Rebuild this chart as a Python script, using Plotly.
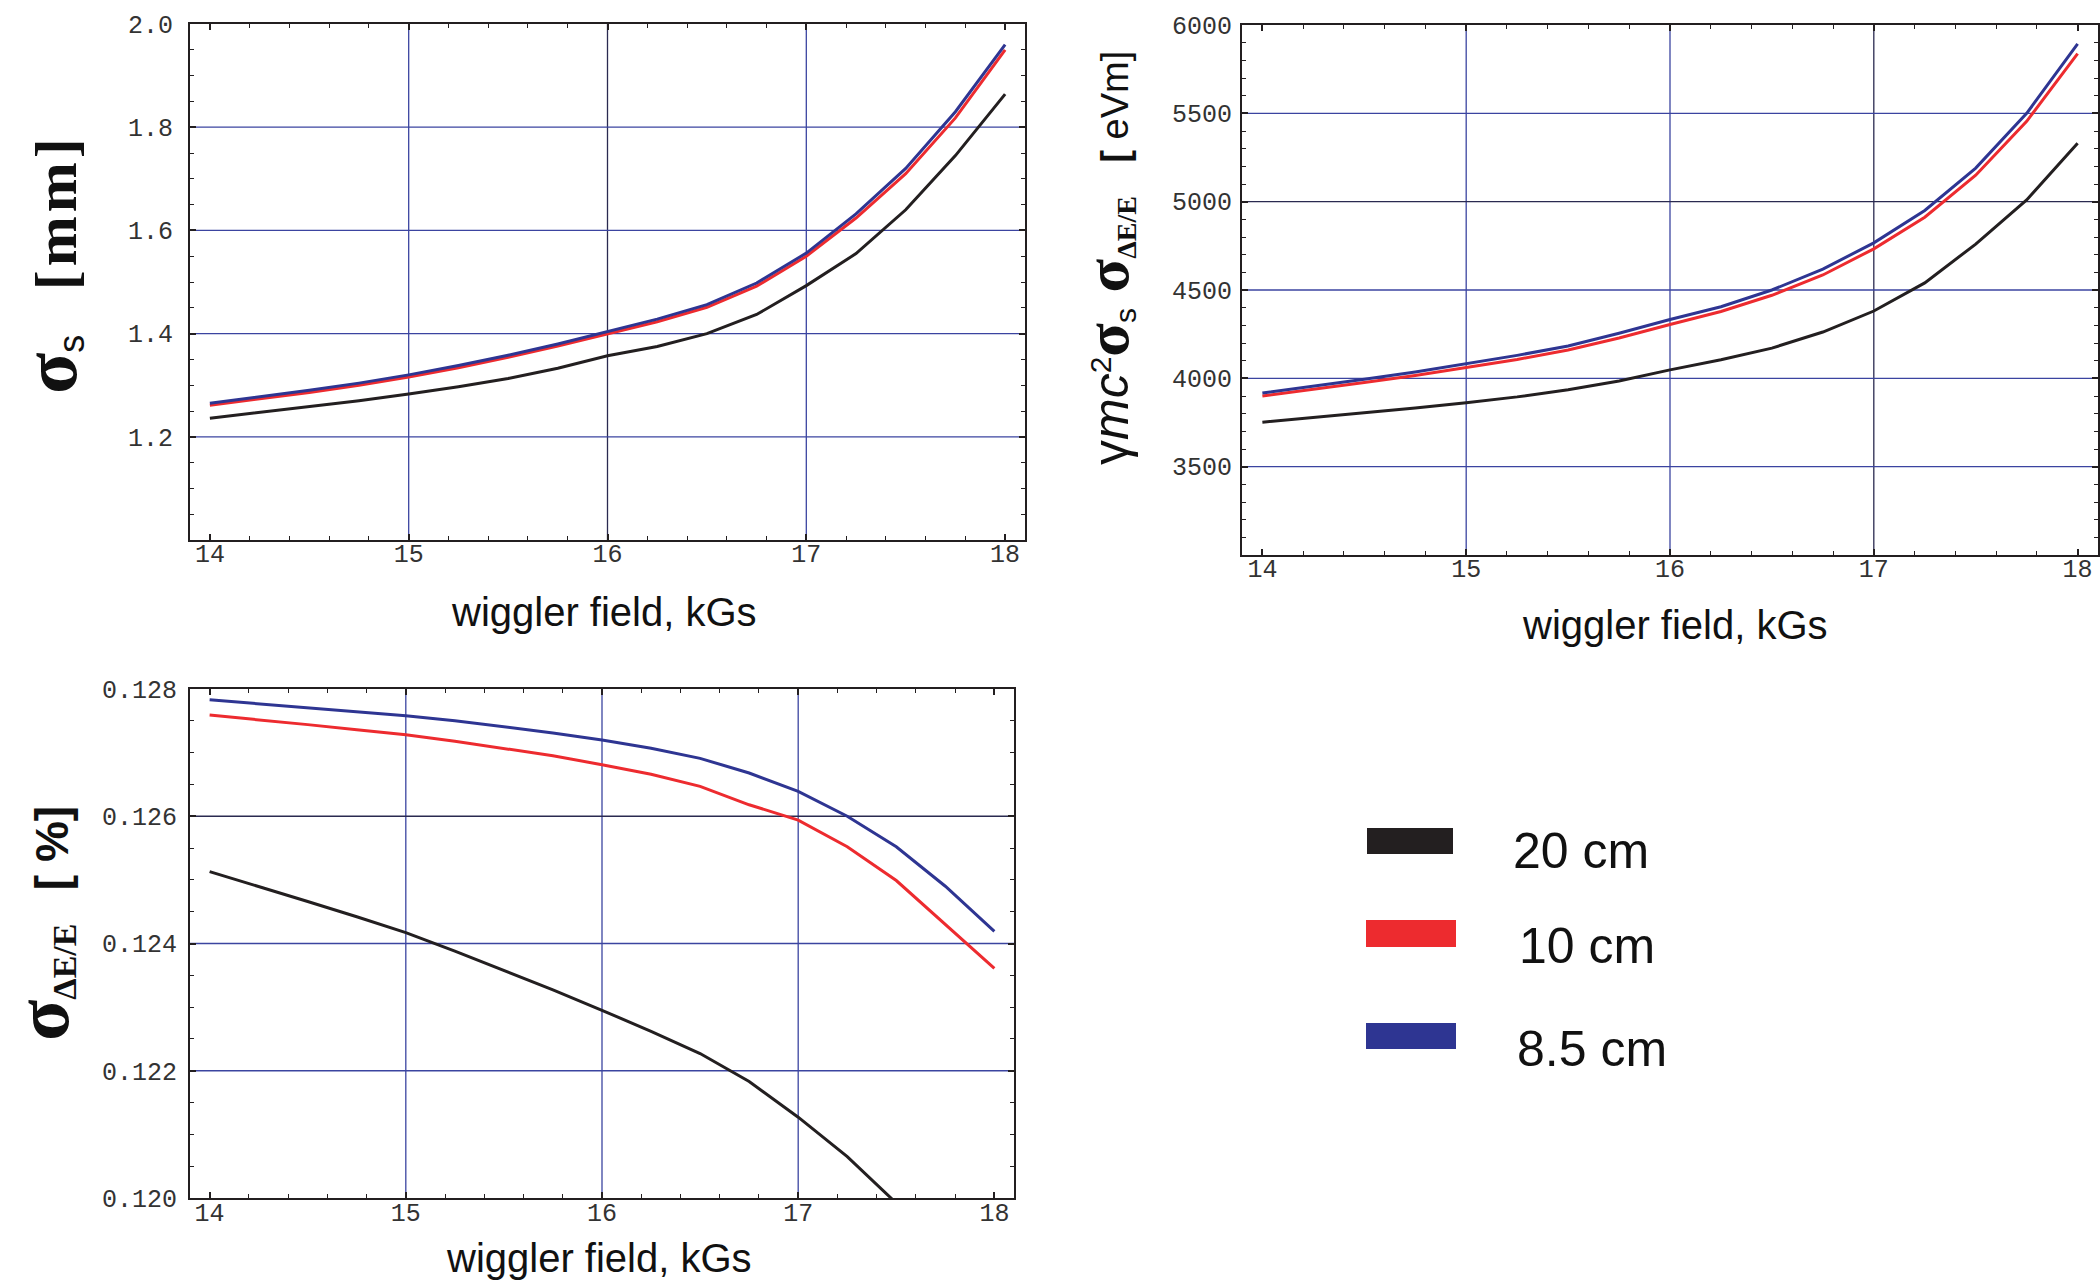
import plotly.graph_objects as go

W, H = 2100, 1282

# ---------------- data ----------------
field_kgs = [14.0, 14.25, 14.5, 14.75, 15.0, 15.25, 15.5, 15.75, 16.0,
             16.25, 16.5, 16.75, 17.0, 17.25, 17.5, 17.75, 18.0]

# bunch length sigma_s [mm]
sigma_s_20cm = [1.236, 1.247, 1.258, 1.270, 1.283, 1.297, 1.313, 1.333, 1.357,
                1.375, 1.400, 1.437, 1.493, 1.555, 1.640, 1.745, 1.864]
sigma_s_10cm = [1.261, 1.273, 1.286, 1.300, 1.316, 1.334, 1.354, 1.376, 1.400,
                1.423, 1.451, 1.492, 1.550, 1.624, 1.710, 1.818, 1.950]
sigma_s_85cm = [1.265, 1.277, 1.290, 1.304, 1.320, 1.338, 1.358, 1.380, 1.404,
                1.428, 1.456, 1.498, 1.556, 1.632, 1.720, 1.830, 1.960]

# longitudinal emittance gamma*m*c^2*sigma_s*sigma_dE/E [eVm]
emit_20cm = [3752, 3778, 3805, 3832, 3862, 3895, 3935, 3985, 4048,
             4105, 4171, 4262, 4381, 4540, 4760, 5010, 5331]
emit_10cm = [3900, 3937, 3976, 4016, 4060, 4107, 4160, 4228, 4305,
             4378, 4470, 4585, 4733, 4912, 5150, 5455, 5838]
emit_85cm = [3917, 3955, 3995, 4036, 4081, 4130, 4183, 4255, 4333,
             4405, 4500, 4618, 4767, 4950, 5190, 5500, 5893]

# relative energy spread sigma_dE/E [%]
spread_20cm = [0.12513, 0.12490, 0.12466, 0.12442, 0.12417, 0.12388, 0.12358,
               0.12327, 0.12295, 0.12262, 0.12227, 0.12183, 0.12127, 0.12065,
               0.11992]
spread_10cm = [0.12759, 0.12752, 0.12744, 0.12736, 0.12728, 0.12718, 0.12707,
               0.12695, 0.12681, 0.12666, 0.12647, 0.12618, 0.12594, 0.12552,
               0.12499, 0.12430, 0.12361]
spread_85cm = [0.12783, 0.12777, 0.12771, 0.12765, 0.12758, 0.12750, 0.12741,
               0.12731, 0.12720, 0.12707, 0.12691, 0.12668, 0.12639, 0.12600,
               0.12552, 0.12490, 0.12419]

period_labels = ["20 cm", "10 cm", "8.5 cm"]
x_ticks = [14, 15, 16, 17, 18]
y1_ticks = [1.2, 1.4, 1.6, 1.8, 2.0]
y2_ticks = [3500, 4000, 4500, 5000, 5500, 6000]
y3_ticks = [0.120, 0.122, 0.124, 0.126, 0.128]

# ---------------- styling ----------------
BLACK = "#231f20"
RED = "#ed2b2f"
BLUE = "#2e3592"
GRID = "#3b44a0"
GRID_DARK = "#2a2a50"
TICK_FONT = dict(family="Liberation Mono", size=25, color="#333333")
TITLE_FONT = dict(family="Liberation Sans", size=40, color="#111111")


def px(x):
    return x / W


def py(y):
    return 1 - y / H


fig = go.Figure()

series = [
    ("x", "y", [sigma_s_20cm, sigma_s_10cm, sigma_s_85cm]),
    ("x2", "y2", [emit_20cm, emit_10cm, emit_85cm]),
    ("x3", "y3", [spread_20cm, spread_10cm, spread_85cm]),
]
for xa, ya, ys in series:
    for vals, col in zip(ys, [BLACK, RED, BLUE]):
        fig.add_trace(go.Scatter(
            x=field_kgs[:len(vals)], y=vals, mode="lines",
            line=dict(color=col, width=3), xaxis=xa, yaxis=ya,
            showlegend=False, hoverinfo="skip"))


def xaxis(standoff):
    return dict(
        range=[13.9, 18.1], tickvals=x_ticks,
        ticktext=[str(v) for v in x_ticks],
        ticks="inside", ticklen=6, tickwidth=1.5, tickcolor=BLACK,
        minor=dict(ticks="inside", tick0=14, dtick=0.2, ticklen=4,
                   tickwidth=1.2, tickcolor=BLACK, showgrid=False),
        showline=True, linewidth=2, linecolor=BLACK, mirror="allticks",
        showgrid=False, zeroline=False, tickfont=TICK_FONT,
        ticklabelstandoff=standoff, automargin=False,
    )


def yaxis(rng, ticks, text, minor_dt, standoff):
    return dict(
        range=rng, tickvals=ticks, ticktext=text,
        ticks="inside", ticklen=6, tickwidth=1.5, tickcolor=BLACK,
        minor=dict(ticks="inside", tick0=rng[0], dtick=minor_dt, ticklen=4,
                   tickwidth=1.2, tickcolor=BLACK, showgrid=False),
        showline=True, linewidth=2, linecolor=BLACK, mirror="allticks",
        showgrid=False, zeroline=False, tickfont=TICK_FONT,
        ticklabelstandoff=standoff, automargin=False,
    )


fig.update_layout(
    width=W, height=H, margin=dict(l=0, r=0, t=0, b=0, autoexpand=False),
    paper_bgcolor="white", plot_bgcolor="white",
    xaxis=dict(xaxis(-10), domain=[px(190), px(1025)], anchor="y"),
    yaxis=dict(yaxis([1.0, 2.0], y1_ticks, ["%.1f" % v for v in y1_ticks],
                     0.05, 10),
               domain=[py(540), py(24)], anchor="x"),
    xaxis2=dict(xaxis(-10), domain=[px(1242), px(2098)], anchor="y2"),
    yaxis2=dict(yaxis([3000, 6000], y2_ticks, [str(v) for v in y2_ticks],
                      100, 3),
                domain=[py(555), py(25)], anchor="x2"),
    xaxis3=dict(xaxis(-9), domain=[px(190), px(1014)], anchor="y3"),
    yaxis3=dict(yaxis([0.120, 0.128], y3_ticks,
                      ["%.3f" % v for v in y3_ticks], 0.0005, 6),
                domain=[py(1198), py(689)], anchor="x3"),
)

# grid lines (interior only)
grid_specs = [
    ("x", "y", "v", 15, GRID), ("x", "y", "v", 16, GRID_DARK),
    ("x", "y", "v", 17, GRID),
    ("x", "y", "h", 1.2, GRID), ("x", "y", "h", 1.4, GRID),
    ("x", "y", "h", 1.6, GRID), ("x", "y", "h", 1.8, GRID),
    ("x2", "y2", "v", 15, GRID), ("x2", "y2", "v", 16, GRID),
    ("x2", "y2", "v", 17, GRID_DARK),
    ("x2", "y2", "h", 3500, GRID), ("x2", "y2", "h", 4000, GRID),
    ("x2", "y2", "h", 4500, GRID), ("x2", "y2", "h", 5000, GRID_DARK),
    ("x2", "y2", "h", 5500, GRID),
    ("x3", "y3", "v", 15, GRID), ("x3", "y3", "v", 16, GRID),
    ("x3", "y3", "v", 17, GRID),
    ("x3", "y3", "h", 0.122, GRID), ("x3", "y3", "h", 0.124, GRID),
    ("x3", "y3", "h", 0.126, GRID_DARK),
]
for xa, ya, kind, v, col in grid_specs:
    if kind == "v":
        fig.add_shape(type="line", xref=xa, yref=ya + " domain", x0=v, x1=v,
                      y0=0, y1=1, line=dict(color=col, width=1.3),
                      layer="below")
    else:
        fig.add_shape(type="line", xref=xa + " domain", yref=ya, x0=0, x1=1,
                      y0=v, y1=v, line=dict(color=col, width=1.3),
                      layer="below")

# x-axis titles
for cx, cy, anchor in [(604, 612, "middle"), (1675, 625, "middle"),
                       (599, 1282, "bottom")]:
    fig.add_annotation(text="wiggler field, kGs", x=px(cx), y=py(cy),
                       xref="paper", yref="paper", showarrow=False,
                       xanchor="center", yanchor=anchor, font=TITLE_FONT)

SERIF_B = "font-family:Liberation Serif;font-weight:bold"
SANS = "font-family:Liberation Sans"

title1 = (f'<span style="{SERIF_B};font-size:76px">σ</span>'
          f'<sub><span style="{SANS};font-size:36px">s</span></sub>'
          f'<span style="font-size:40px">    </span>'
          f'<span style="{SERIF_B};font-size:60px;letter-spacing:4px">'
          f'[mm]</span>')
title2 = (f'<span style="{SANS};font-size:50px">γ<i>mc</i></span>'
          f'<sup><span style="{SANS};font-size:30px">2</span></sup>'
          f'<span style="{SERIF_B};font-size:62px">σ</span>'
          f'<sub><span style="{SANS};font-size:30px">s</span></sub>'
          f'<span style="{SERIF_B};font-size:62px"> σ</span>'
          f'<sub><span style="{SERIF_B};font-size:28px">ΔE/E</span></sub>'
          f'<span style="font-size:40px">   </span>'
          f'<span style="{SANS};font-size:38px"><b>[</b> eVm]</span>')
title3 = (f'<span style="{SERIF_B};font-size:76px">σ</span>'
          f'<sub><span style="{SERIF_B};font-size:34px">ΔE/E</span></sub>'
          f'<span style="font-size:40px">   </span>'
          f'<span style="{SANS};font-size:46px;font-weight:bold">[ %]</span>')

for txt, cx, cy in [(title1, 50, 264), (title2, 1108, 258),
                    (title3, 42, 924)]:
    fig.add_annotation(text=txt, x=px(cx), y=py(cy), xref="paper",
                       yref="paper", showarrow=False, textangle=-90,
                       xanchor="center", yanchor="middle",
                       font=dict(family="Liberation Sans", size=40,
                                 color="#111111"))

# legend swatches and labels
legend_items = [
    (BLACK, (1367, 828, 1453, 854), (1511, 851)),
    (RED, (1366, 920, 1456, 947), (1517, 946)),
    (BLUE, (1366, 1023, 1456, 1049), (1515, 1049)),
]
for (col, (x0, y0, x1, y1), (tx, ty)), lab in zip(legend_items, period_labels):
    fig.add_shape(type="rect", xref="paper", yref="paper",
                  x0=px(x0), x1=px(x1), y0=py(y1), y1=py(y0),
                  fillcolor=col, line=dict(width=0))
    fig.add_annotation(text=lab, x=px(tx), y=py(ty), xref="paper",
                       yref="paper", showarrow=False, xanchor="left",
                       yanchor="middle",
                       font=dict(family="Liberation Sans", size=50,
                                 color="#111111"))

fig.write_html("out.html")
